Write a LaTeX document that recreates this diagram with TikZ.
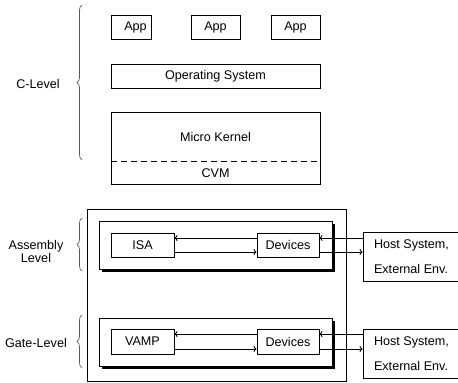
\documentclass[tikz,border=0pt]{standalone}
\usepackage{fontspec}
\setmainfont{Liberation Sans}
\usetikzlibrary{arrows.meta,decorations.pathreplacing}
\begin{document}
\begin{tikzpicture}[x=1pt,y=-1pt,
  every node/.style={font=\fontsize{12.6}{15}\selectfont},
  box/.style={draw, line width=0.8pt, inner sep=0pt},
  arr/.style={-{To[length=3pt,width=6pt]}, line width=0.8pt},
  brc/.style={decorate, decoration={brace,amplitude=5pt}, line width=0.7pt, draw=gray!70!black},
  shd/.style={line width=3pt},
  hosttext/.style={align=left, font=\fontsize{12.6}{25}\selectfont}]
\useasboundingbox (0,0) rectangle (458,383);

% C-level
\node[box, minimum width=40pt, minimum height=24pt] (app1) at (131,27) {\hspace{9pt}App};
\node[box, minimum width=49pt, minimum height=24pt] (app2) at (215.5,27) {App};
\node[box, minimum width=49pt, minimum height=24pt] (app3) at (295.5,27) {App};
\node[box, minimum width=209pt, minimum height=24pt] (os) at (215.5,76) {Operating System};
\node[box, minimum width=209pt, minimum height=72pt] (mk) at (215.5,148) {};
\node (mkt) at (215.5,137) {Micro Kernel};
\coordinate (cvmtop) at (0,161);
\draw[dashed, dash pattern=on 6pt off 4pt, line width=0.8pt] (mk.west |- cvmtop) -- (mk.east |- cvmtop);
\node (cvm) at (215.5,173) {CVM};
\draw[brc] (82,160) -- (82,5);
\node (clevel) at (38,84) {C-Level};

% outer box
\node[box, minimum width=259pt, minimum height=172pt] (outer) at (216.5,295) {};

% Assembly level
\node[box, minimum width=233pt, minimum height=48pt] (asm) at (215.5,245) {};
\draw[shd] ([xshift=3pt,yshift=-1.5pt]asm.south west) -- ([xshift=1.5pt,yshift=-1.5pt]asm.south east) -- ([xshift=1.5pt,yshift=-3pt]asm.north east);
\node[box, minimum width=63pt, minimum height=24pt] (isa) at (142.5,245) {ISA};
\node[box, minimum width=62pt, minimum height=24pt] (dev1) at (288,245) {Devices};
\node[box, minimum width=97pt, minimum height=49pt, hosttext] (host1) at (411.5,256.5) {Host System,\\External Env.};
\draw[arr] ([yshift=7pt]dev1.west) -- ([yshift=7pt]isa.east);
\draw[arr] ([yshift=-7pt]isa.east) -- ([yshift=-7pt]dev1.west);
\coordinate (d1u) at ([yshift=7pt]dev1.east);
\coordinate (d1d) at ([yshift=-7pt]dev1.east);
\draw[arr] (d1u -| host1.west) -- (d1u);
\draw[arr] (d1d) -- (d1d -| host1.west);
\draw[brc] (82,271) -- (82,218);
\node[align=center, font=\fontsize{12.6}{13}\selectfont] (asml) at (36,251) {Assembly\\Level};

% Gate level
\node[box, minimum width=233pt, minimum height=48pt] (gate) at (215.5,342) {};
\draw[shd] ([xshift=3pt,yshift=-1.5pt]gate.south west) -- ([xshift=1.5pt,yshift=-1.5pt]gate.south east) -- ([xshift=1.5pt,yshift=-3pt]gate.north east);
\node[box, minimum width=63pt, minimum height=25pt] (vamp) at (142.5,341.5) {VAMP};
\node[box, minimum width=62pt, minimum height=25pt] (dev2) at (288,341.5) {Devices};
\node[box, minimum width=97pt, minimum height=49pt, hosttext] (host2) at (411.5,353.5) {Host System,\\External Env.};
\draw[arr] ([yshift=7.5pt]dev2.west) -- ([yshift=7.5pt]vamp.east);
\draw[arr] ([yshift=-7.5pt]vamp.east) -- ([yshift=-7.5pt]dev2.west);
\coordinate (d2u) at ([yshift=7.5pt]dev2.east);
\coordinate (d2d) at ([yshift=-7.5pt]dev2.east);
\draw[arr] (d2u -| host2.west) -- (d2u);
\draw[arr] (d2d) -- (d2d -| host2.west);
\draw[brc] (82,368) -- (82,315);
\node (gatel) at (36,343) {Gate-Level};
\end{tikzpicture}
\end{document}
